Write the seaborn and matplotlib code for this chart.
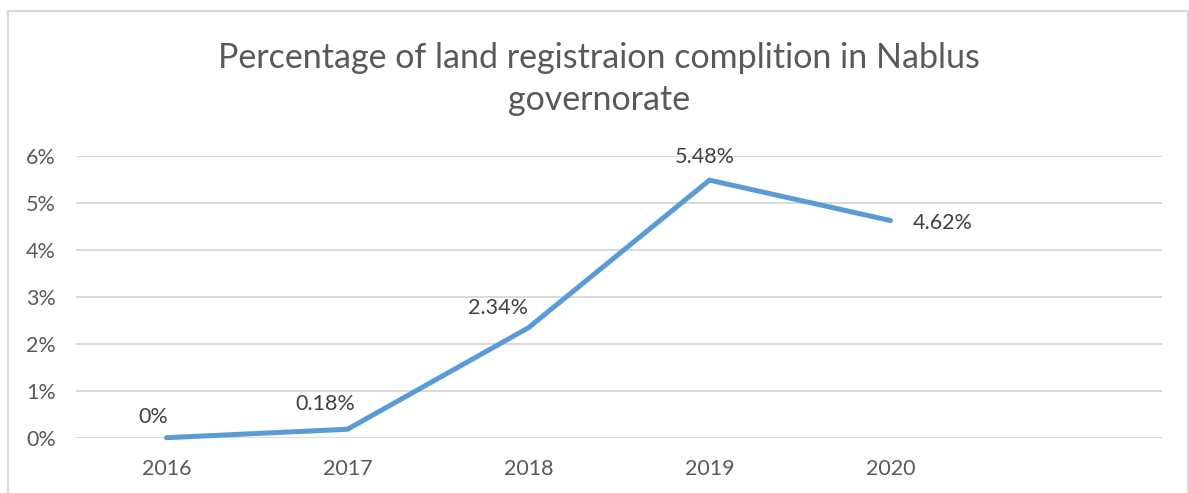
import matplotlib
matplotlib.use("Agg")
import matplotlib.pyplot as plt
import seaborn as sns
import pandas as pd
from matplotlib.lines import Line2D

years = ["2016", "2017", "2018", "2019", "2020"]
values = [0.0, 0.0018, 0.0234, 0.0548, 0.0462]
labels = ["0%", "0.18%", "2.34%", "5.48%", "4.62%"]
yticks = [0.0, 0.01, 0.02, 0.03, 0.04, 0.05, 0.06]
ytick_labels = ["0%", "1%", "2%", "3%", "4%", "5%", "6%"]
title = "Percentage of land registraion complition in Nablus\ngovernorate"

sns.set_theme(style="white")
plt.rcParams['font.family'] = ['Lato', 'DejaVu Sans']

W, H = 1189, 493
fig = plt.figure(figsize=(W / 100, H / 100), dpi=100)
ax = fig.add_axes([76 / W, 1 - 437.7 / H, (1162 - 76) / W, (437.7 - 155.7) / H])

df = pd.DataFrame({"year": years, "value": values})
sns.lineplot(data=df, x="year", y="value", ax=ax, color="#5b9bd5",
             linewidth=3.6, solid_capstyle="round", solid_joinstyle="miter",
             clip_on=False, zorder=3)

ax.set_xlim(-0.5, 5.5)
ax.set_ylim(0, 0.06)
ax.set_yticks(yticks)
ax.set_yticklabels(ytick_labels)
ax.set_xticks(range(len(years)))
ax.set_xticklabels(years)
ax.set_xlabel("")
ax.set_ylabel("")
ax.tick_params(axis="both", length=0, labelsize=15.5, colors="#595959")
ax.tick_params(axis="x", pad=15)
ax.tick_params(axis="y", pad=14.5)
ax.grid(axis="y", color="#d9d9d9", linewidth=1.4)
ax.grid(axis="x", visible=False)
for s in ax.spines.values():
    s.set_visible(False)

offsets = [(-9.4, 15), (-16, 18), (-22, 14.4), (-3.6, 16.5), (37.4, -1.7)]
for i, (v, lab) in enumerate(zip(values, labels)):
    ax.annotate(lab, (i, v), xytext=offsets[i], textcoords="offset points",
                ha="center", va="center", fontsize=15.5, color="#404040")

fig.text(599 / W, 1 - 79 / H, title, ha="center", va="center",
         fontsize=24.5, color="#595959", linespacing=1.42)

# chart border (left, top, right)
bc = "#d9d9d9"
fig.add_artist(Line2D([7.5 / W, 7.5 / W], [0, 1 - 11 / H], transform=fig.transFigure, color=bc, lw=1.6))
fig.add_artist(Line2D([7.5 / W, 1187.5 / W], [1 - 11 / H, 1 - 11 / H], transform=fig.transFigure, color=bc, lw=1.6))
fig.add_artist(Line2D([1187.5 / W, 1187.5 / W], [0, 1 - 11 / H], transform=fig.transFigure, color=bc, lw=1.6))

fig.savefig("out.png", dpi=100, facecolor="white")
